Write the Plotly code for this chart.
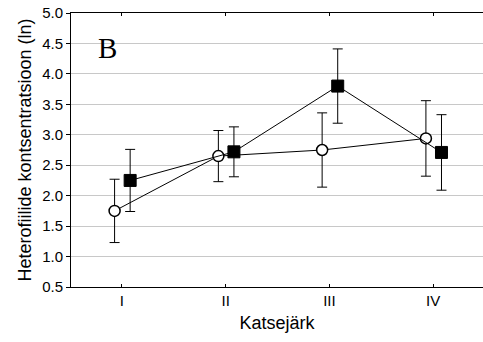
import plotly.graph_objects as go

categories = ["I", "II", "III", "IV"]
cat_pos = [0, 1, 2, 3]

# open circles
circle_mean = [1.75, 2.65, 2.75, 2.94]
circle_err = [0.52, 0.42, 0.61, 0.62]
# filled squares
square_mean = [2.25, 2.72, 3.80, 2.71]
square_err = [0.51, 0.41, 0.61, 0.62]

y_ticks = [0.5, 1.0, 1.5, 2.0, 2.5, 3.0, 3.5, 4.0, 4.5, 5.0]

OFF_C = -0.07
OFF_S = 0.08

FONT = "Liberation Sans, Arial, sans-serif"

fig = go.Figure()

fig.add_trace(go.Scatter(
    x=[p + OFF_C for p in cat_pos], y=circle_mean,
    mode="lines+markers", name="ring",
    line=dict(color="black", width=1),
    marker=dict(symbol="circle", size=11, color="white",
                line=dict(color="black", width=1.5)),
    error_y=dict(type="data", array=circle_err, visible=True,
                 color="black", thickness=1, width=5),
    showlegend=False,
))
fig.add_trace(go.Scatter(
    x=[p + OFF_S for p in cat_pos], y=square_mean,
    mode="lines+markers", name="ruut",
    line=dict(color="black", width=1),
    marker=dict(symbol="square", size=12, color="black",
                line=dict(color="black", width=1)),
    error_y=dict(type="data", array=square_err, visible=True,
                 color="black", thickness=1, width=5),
    showlegend=False,
))

# white patch behind the panel letter (covers gridline)
fig.add_shape(type="rect", xref="paper", yref="y",
              x0=0.002, x1=0.162, y0=4.3, y1=4.75,
              fillcolor="white", line=dict(width=0), layer="between")

fig.add_annotation(text="B", xref="paper", yref="y", x=0.06, y=4.43,
                   xanchor="left", yanchor="middle", showarrow=False,
                   font=dict(family="Liberation Serif, Times New Roman, serif",
                             size=29, color="black"))

fig.update_layout(
    width=483, height=342,
    margin=dict(l=71, r=0, t=13, b=55),
    paper_bgcolor="white", plot_bgcolor="white",
    font=dict(family=FONT, color="black", size=15),
)

fig.update_xaxes(
    range=[-0.49, 3.48],
    tickmode="array", tickvals=cat_pos, ticktext=categories,
    showgrid=False, zeroline=False,
    showline=True, linecolor="black", linewidth=1,
    mirror="ticks", ticks="inside", ticklen=3, tickcolor="black",
    tickfont=dict(size=15),
    title=dict(text="Katsejärk", font=dict(size=18), standoff=8),
)
fig.update_yaxes(
    range=[0.5, 5.0],
    tickmode="array", tickvals=y_ticks,
    ticktext=[f"{v:.1f}" for v in y_ticks],
    showgrid=True, gridcolor="#c8c8c8", gridwidth=1,
    zeroline=False,
    showline=True, linecolor="black", linewidth=1,
    ticks="outside", ticklen=4, tickcolor="black",
    tickfont=dict(size=15),
    title=dict(text="Heterofiilide kontsentratsioon (ln)",
               font=dict(size=18), standoff=5),
)

fig.write_html("out.html")
